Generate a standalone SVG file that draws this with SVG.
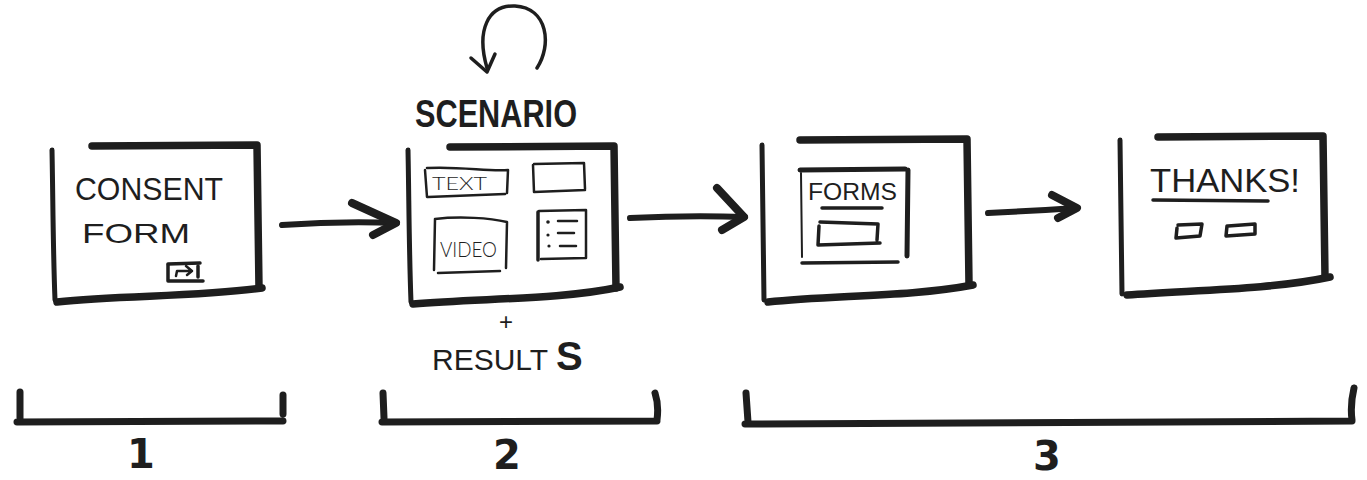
<svg xmlns="http://www.w3.org/2000/svg" width="1367" height="480" viewBox="0 0 1367 480">
  <style>
    .ink { fill: none; stroke: #1e1e1e; stroke-linecap: round; stroke-linejoin: round; }
    .edge { stroke-width: 7.5; }
    .side { stroke-width: 5; }
    .thin { stroke-width: 2.5; }
    .mid { stroke-width: 3.5; }
    .arrow { stroke-width: 6; }
    .head { stroke-width: 8; }
    .brace { stroke-width: 7; }
    text { fill: #1e1e1e; font-family: "Liberation Sans", "DejaVu Sans", sans-serif; }
    .hand { font-weight: normal; }
    .light { font-family: "Lato", "Liberation Sans", sans-serif; font-weight: 300; }
    .num { font-family: "DejaVu Sans", sans-serif; font-weight: bold; }
  </style>
  <rect width="1367" height="480" fill="#ffffff"/>

  <!-- step 1: consent form -->
  <g id="consent-form">
    <path class="ink side" d="M52,150 C53,200 53,250 55,300"/>
    <path class="ink edge" d="M92,146 L257,145 L259,288"/>
    <path class="ink edge" d="M57,302 C120,295 200,297 262,288"/>
    <text class="hand" x="75" y="200" font-size="32" textLength="148" lengthAdjust="spacingAndGlyphs">CONSENT</text>
    <text class="hand" x="82" y="243" font-size="28" textLength="108" lengthAdjust="spacingAndGlyphs">FORM</text>
    <!-- submit icon -->
    <path class="ink mid" d="M168,264 L200,263"/>
    <path class="ink mid" d="M168,265 L168,281 L203,281"/>
    <path class="ink mid" d="M198,266 L198,277"/>
    <path class="ink thin" d="M176,276 L177,271 L192,271 M186,266 L192,271 L187,275"/>
  </g>

  <!-- step 2: scenario -->
  <g id="scenario">
    <path class="ink mid" d="M537,68 C552,45 548,8 515,6 C488,5 476,30 487,68"/>
    <path class="ink mid" d="M471,58 L487,72 L495,54"/>
    <text x="415" y="127" font-size="38" font-weight="bold" textLength="162" lengthAdjust="spacingAndGlyphs">SCENARIO</text>
    <path class="ink side" d="M408,150 C409,200 409,250 411,302"/>
    <path class="ink edge" d="M450,147 L614,146 L616,288"/>
    <path class="ink edge" d="M413,304 C480,298 560,300 620,287"/>
    <!-- text block -->
    <path class="ink thin" d="M427,168 C460,166 490,172 508,170 L507,193 M428,197 L505,194 M425,170 L427,197"/>
    <text class="light" x="432" y="190" font-size="17" textLength="55" lengthAdjust="spacingAndGlyphs">TEXT</text>
    <!-- empty block -->
    <path class="ink thin" d="M534,164 L584,163 L585,189 M533,165 L534,192 L585,190"/>
    <!-- video block -->
    <path class="ink thin" d="M435,219 C460,216 490,218 507,222 L506,268 M435,219 L434,270 M438,273 L500,271"/>
    <text class="light" x="440" y="257" font-size="22" textLength="57" lengthAdjust="spacingAndGlyphs">VIDEO</text>
    <!-- list block -->
    <path class="ink thin" d="M539,211 L586,210 L586,258 L541,259"/>
    <path class="ink mid" d="M538,212 L538,260"/>
    <circle cx="548" cy="222" r="1.8" fill="#1e1e1e"/>
    <circle cx="548" cy="235" r="1.6" fill="#1e1e1e"/>
    <circle cx="549" cy="246" r="1.6" fill="#1e1e1e"/>
    <path class="ink thin" d="M558,221 L577,221 M558,233 L574,233 M560,246 L576,246"/>
    <text class="hand" x="506" y="330" font-size="24" text-anchor="middle">+</text>
    <text class="hand" x="432" y="370" font-size="30">RESULT <tspan font-size="40" font-weight="bold">S</tspan></text>
  </g>

  <!-- step 3: forms -->
  <g id="forms">
    <path class="ink side" d="M762,145 C763,200 763,250 764,300"/>
    <path class="ink edge" d="M800,140 L967,139 L969,284"/>
    <path class="ink edge" d="M768,302 C830,295 910,297 973,285"/>
    <path class="ink side" d="M800,170 L905,169 M908,170 L907,256"/>
    <path class="ink" stroke-width="2" d="M801,173 L802,257"/>
    <path class="ink mid" d="M802,263 L898,262"/>
    <text class="hand" x="808" y="200" font-size="24" textLength="89" lengthAdjust="spacingAndGlyphs">FORMS</text>
    <path class="ink mid" d="M822,208 L882,208"/>
    <path class="ink mid" d="M820,222 L878,224 L877,240 M819,226 L818,245 L880,243"/>
  </g>

  <!-- step 3: thank-you page -->
  <g id="thanks">
    <path class="ink side" d="M1120,140 C1121,200 1121,250 1122,294"/>
    <path class="ink edge" d="M1158,137 L1323,136 L1325,277"/>
    <path class="ink edge" d="M1127,295 C1190,290 1270,290 1330,277"/>
    <text class="hand" x="1150" y="192" font-size="33" textLength="150" lengthAdjust="spacingAndGlyphs">THANKS!</text>
    <path class="ink mid" d="M1153,200 L1268,201"/>
    <path class="ink mid" d="M1178,225 L1202,224 L1200,236 L1176,238 L1177,228"/>
    <path class="ink mid" d="M1228,226 L1255,224 L1255,234 L1226,236 L1227,226"/>
  </g>

  <!-- flow arrows -->
  <g id="connectors">
    <path class="ink arrow" d="M282,225 Q340,221 397,223"/>
    <path class="ink head" d="M352,203 L396,223 L373,235"/>
    <path class="ink arrow" d="M630,218 Q690,215 745,217"/>
    <path class="ink head" d="M717,188 L744,217 L722,230"/>
    <path class="ink arrow" d="M988,213 Q1030,211 1076,208"/>
    <path class="ink head" d="M1052,195 L1077,208 L1058,218"/>
  </g>

  <!-- phase brackets -->
  <g id="phase-1">
    <path class="ink brace" d="M17,422 L283,421 M20,392 L20,418 M283,395 L283,414"/>
    <text class="num" x="141" y="468" font-size="40" text-anchor="middle">1</text>
  </g>
  <g id="phase-2">
    <path class="ink brace" d="M382,422 L657,421 M383,393 L384,418 M655,393 Q659,405 657,420"/>
    <text class="num" x="507" y="469" font-size="40" text-anchor="middle">2</text>
  </g>
  <g id="phase-3">
    <path class="ink brace" d="M745,424 L1352,421 M746,393 L748,422 M1354,388 Q1350,405 1352,420"/>
    <text class="num" x="1047" y="470" font-size="40" text-anchor="middle">3</text>
  </g>
</svg>
